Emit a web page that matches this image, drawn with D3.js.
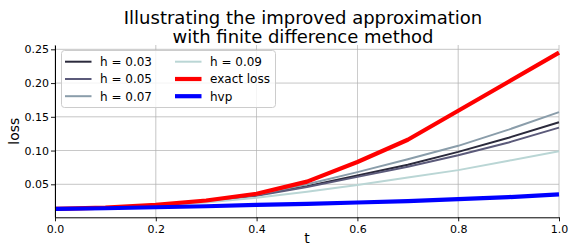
<!DOCTYPE html>
<html>
<head>
<meta charset="utf-8">
<script src="https://cdn.jsdelivr.net/npm/d3@7"></script>
<style>
  html, body { margin: 0; padding: 0; background: #fff; }
  svg { display: block; font-family: "DejaVu Sans", sans-serif; }
</style>
</head>
<body>
<svg id="chart" width="569" height="247"></svg>
<script>
const tValues = [0.0, 0.1, 0.2, 0.3, 0.4, 0.5, 0.6, 0.7, 0.8, 0.9, 1.0];
const h003 = [0.0135, 0.0155, 0.019, 0.025, 0.034, 0.047, 0.063, 0.079, 0.098, 0.119, 0.142];
const h005 = [0.0135, 0.0155, 0.019, 0.0245, 0.033, 0.046, 0.061, 0.076, 0.093, 0.112, 0.134];
const h007 = [0.0135, 0.0157, 0.0195, 0.026, 0.035, 0.050, 0.068, 0.087, 0.107, 0.131, 0.157];
const h009 = [0.0135, 0.0150, 0.0175, 0.023, 0.030, 0.039, 0.049, 0.060, 0.071, 0.085, 0.099];
const exactLoss = [0.0135, 0.0155, 0.0195, 0.026, 0.036, 0.054, 0.083, 0.116, 0.159, 0.202, 0.245];
const hvp = [0.0135, 0.0145, 0.016, 0.0175, 0.0195, 0.021, 0.023, 0.025, 0.028, 0.031, 0.035];
const xTicks = [0.0, 0.2, 0.4, 0.6, 0.8, 1.0];
const yTicks = [0.05, 0.10, 0.15, 0.20, 0.25];

const series = [
  { name: "h = 0.03", values: h003, color: "#2b2a3c", width: 2 },
  { name: "h = 0.05", values: h005, color: "#5b5a7a", width: 2 },
  { name: "h = 0.07", values: h007, color: "#8a9daa", width: 2 },
  { name: "h = 0.09", values: h009, color: "#bad6d5", width: 2 },
  { name: "exact loss", values: exactLoss, color: "#ff0000", width: 4.2 },
  { name: "hvp", values: hvp, color: "#0000ff", width: 4.2 }
];

const svg = d3.select("#chart");
const L = 55, R = 559, T = 45, B = 217.3;
const x = d3.scaleLinear().domain([0, 1]).range([L, R]);
const y = d3.scaleLinear().domain([0.0011, 0.2564]).range([B, T]);

// grid
const grid = svg.append("g");
grid.selectAll(".gx").data(xTicks).enter().append("line")
  .attr("x1", d => x(d)).attr("x2", d => x(d)).attr("y1", T).attr("y2", B)
  .attr("stroke", "#b0b0b0").attr("stroke-width", 0.8).attr("opacity", 0.9);
grid.selectAll(".gy").data(yTicks).enter().append("line")
  .attr("x1", L).attr("x2", R).attr("y1", d => y(d)).attr("y2", d => y(d))
  .attr("stroke", "#b0b0b0").attr("stroke-width", 0.8).attr("opacity", 0.9);

// lines
const line = d3.line().x((d, i) => x(tValues[i])).y(d => y(d));
const plot = svg.append("g");
series.forEach(s => {
  plot.append("path").datum(s.values)
    .attr("d", line)
    .attr("fill", "none")
    .attr("stroke", s.color)
    .attr("stroke-width", s.width)
    .attr("stroke-linejoin", "round")
    .attr("stroke-linecap", "butt");
});

// axes
const xAxis = svg.append("g").attr("transform", `translate(0,${B})`)
  .call(d3.axisBottom(x).tickValues(xTicks).tickFormat(d3.format(".1f")).tickSize(4).tickSizeOuter(0));
const yAxis = svg.append("g").attr("transform", `translate(${L},0)`)
  .call(d3.axisLeft(y).tickValues(yTicks).tickFormat(d3.format(".2f")).tickSize(4).tickSizeOuter(0));
[xAxis, yAxis].forEach(a => {
  a.select(".domain").attr("stroke", "#000").attr("stroke-width", 1);
  a.selectAll(".tick line").attr("stroke", "#000").attr("stroke-width", 0.9);
  a.selectAll(".tick text").attr("font-size", 11).attr("font-family", "DejaVu Sans").attr("fill", "#000");
});
xAxis.selectAll(".tick text").attr("dy", "0.95em").attr("y", 5);
yAxis.selectAll(".tick text").attr("x", -6);

// labels
svg.append("text").attr("x", (L + R) / 2).attr("y", 243).attr("text-anchor", "middle")
  .attr("font-size", 14).text("t");
svg.append("text").attr("transform", `translate(19,${(T + B) / 2}) rotate(-90)`)
  .attr("text-anchor", "middle").attr("font-size", 14).text("loss");

// title
svg.append("text").attr("x", (L + R) / 2 - 4).attr("y", 23.5).attr("text-anchor", "middle")
  .attr("font-size", 18).text("Illustrating the improved approximation");
svg.append("text").attr("x", (L + R) / 2 - 4).attr("y", 42.5).attr("text-anchor", "middle")
  .attr("font-size", 18).text("with finite difference method");

// legend
const lg = svg.append("g");
lg.append("rect").attr("x", 61.5).attr("y", 50.5).attr("width", 214).attr("height", 57)
  .attr("rx", 3).attr("fill", "#fff").attr("fill-opacity", 0.8)
  .attr("stroke", "#cccccc").attr("stroke-width", 1);
const colX = [65, 175];
const rowY = [61.7, 79, 96.2];
series.forEach((s, i) => {
  const c = Math.floor(i / 3), r = i % 3;
  lg.append("line").attr("x1", colX[c]).attr("x2", colX[c] + 26.5)
    .attr("y1", rowY[r]).attr("y2", rowY[r])
    .attr("stroke", s.color).attr("stroke-width", s.width);
  lg.append("text").attr("x", colX[c] + 35).attr("y", rowY[r]).attr("dy", "0.36em")
    .attr("font-size", 12).text(s.name);
});
</script>
</body>
</html>
